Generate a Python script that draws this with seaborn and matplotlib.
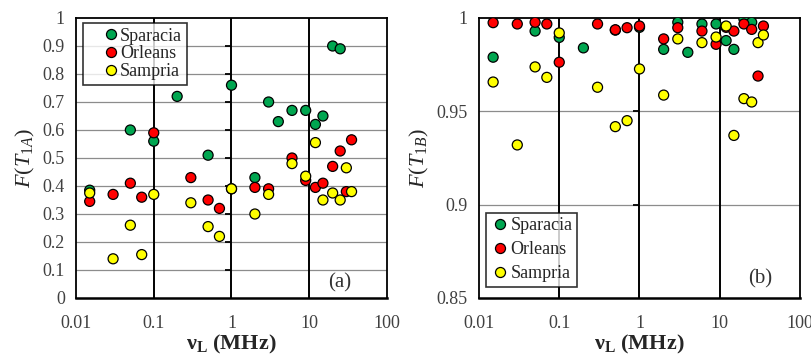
import numpy as np
import pandas as pd
import matplotlib
matplotlib.use('Agg')
import matplotlib.pyplot as plt
import seaborn as sns

## --- dados ---
x_sparacia = [0.015, 0.05, 0.1, 0.2, 0.5, 1, 2, 3, 4, 6, 9, 12, 15, 20, 25]
x_outros = [0.015, 0.03, 0.05, 0.07, 0.1, 0.3, 0.5, 0.7, 1, 2, 3, 6, 9, 12, 15, 20, 25, 30, 35]

# painel (a) F(T1A)
fa_sparacia = [0.385, 0.60, 0.56, 0.72, 0.51, 0.76, 0.43, 0.70, 0.63, 0.67, 0.67, 0.62, 0.65, 0.90, 0.89]
fa_orleans = [0.345, 0.37, 0.41, 0.36, 0.59, 0.43, 0.35, 0.32, 0.39, 0.395, 0.39, 0.50, 0.42, 0.395, 0.41,
              0.47, 0.525, 0.38, 0.565]
fa_sampria = [0.375, 0.14, 0.26, 0.155, 0.37, 0.34, 0.255, 0.22, 0.39, 0.30, 0.37, 0.48, 0.435, 0.555, 0.35,
              0.375, 0.35, 0.465, 0.38]

# painel (b) F(T1B)
fb_sparacia = [0.979, 0.993, 0.9896, 0.984, 0.9935, 0.995, 0.9832, 0.9977, 0.9816, 0.9968, 0.9968, 0.9879,
               0.9832, 0.9995, 0.9977]
fb_orleans = [0.9975, 0.9968, 0.9977, 0.9968, 0.9763, 0.9968, 0.9937, 0.9948, 0.9957, 0.9888, 0.9948, 0.993,
              0.9859, 0.995, 0.993, 0.9968, 0.9939, 0.9689, 0.9957]
fb_sampria = [0.9657, 0.932, 0.9738, 0.9682, 0.992, 0.9629, 0.9418, 0.945, 0.9727, 0.9587, 0.9888, 0.9868,
              0.9898, 0.9957, 0.9371, 0.9568, 0.955, 0.9868, 0.9909]

amostras = ['Sparacia', 'Orleans', 'Sampria']
cores = {'Sparacia': '#00A650', 'Orleans': '#FF0000', 'Sampria': '#FFFF00'}

x_ticks = [0.01, 0.1, 1, 10, 100]
x_labels = ['0.01', '0.1', '1', '10', '100']
ya_ticks = [0, 0.1, 0.2, 0.3, 0.4, 0.5, 0.6, 0.7, 0.8, 0.9, 1]
ya_labels = ['0', '0.1', '0.2', '0.3', '0.4', '0.5', '0.6', '0.7', '0.8', '0.9', '1']
yb_ticks = [0.85, 0.9, 0.95, 1]
yb_labels = ['0.85', '0.9', '0.95', '1']

## montando as tabelas
def monta(fs, fo, fm):
    return pd.concat([
        pd.DataFrame({'nu': x_sparacia, 'F': fs, 'amostra': 'Sparacia'}),
        pd.DataFrame({'nu': x_outros, 'F': fo, 'amostra': 'Orleans'}),
        pd.DataFrame({'nu': x_outros, 'F': fm, 'amostra': 'Sampria'}),
    ], ignore_index=True)

dados_a = monta(fa_sparacia, fa_orleans, fa_sampria)
dados_b = monta(fb_sparacia, fb_orleans, fb_sampria)

sns.set_style('white')
plt.rcParams['font.family'] = ['Liberation Serif', 'DejaVu Serif']
plt.rcParams['mathtext.fontset'] = 'custom'
plt.rcParams['mathtext.rm'] = 'Liberation Serif'
plt.rcParams['mathtext.it'] = 'Liberation Serif:italic'
plt.rcParams['mathtext.bf'] = 'Liberation Serif:bold'

fig = plt.figure(figsize=(8.12, 3.58), dpi=100)
ax_a = fig.add_axes([76 / 812, 60 / 358, 311 / 812, 280 / 358])
ax_b = fig.add_axes([479 / 812, 60 / 358, 321 / 812, 280 / 358])


def formata(ax, dados, yticks, ylabels, ylim, ylabel, letra, pos_letra):
    sns.scatterplot(data=dados, x='nu', y='F', hue='amostra', hue_order=amostras,
                    palette=cores, s=52, edgecolor='black', linewidth=0.9, ax=ax, zorder=5)
    ax.set_xscale('log')
    ax.set_xlim(0.01, 100)
    ax.set_ylim(*ylim)
    ax.set_xticks(x_ticks)
    ax.set_xticklabels(x_labels)
    ax.minorticks_off()
    ax.set_yticks(yticks)
    ax.set_yticklabels(ylabels)
    ax.tick_params(axis='x', direction='out', length=4, width=1.2, color='black',
                   labelsize=13, labelcolor='#404040', pad=8)
    ax.tick_params(axis='y', length=0, labelsize=13, labelcolor='#404040', pad=8)
    # grade: horizontais cinza, verticais pretas nas decadas
    for yv in yticks[1:-1]:
        ax.axhline(yv, color='#8c8c8c', lw=0.9, zorder=1)
    for xv in x_ticks[1:-1]:
        ax.axvline(xv, color='black', lw=1.4, zorder=2)
    # marquinhas do eixo vertical cruzando em 1 (estilo excel)
    ax.plot([1] * len(yticks[1:-1]), yticks[1:-1], ls='none', marker=0,
            ms=4, mew=1.3, color='black', zorder=3)
    for lado in ax.spines.values():
        lado.set_color('black')
        lado.set_linewidth(1.3)
    ax.spines['bottom'].set_linewidth(1.8)
    ax.set_xlabel(r'ν$_\mathbf{L}$ (MHz)', fontsize=16, fontweight='bold', labelpad=1)
    ax.set_ylabel(ylabel, fontsize=16, labelpad=4)
    ax.text(pos_letra[0], pos_letra[1], letra, transform=ax.transAxes, ha='right', va='bottom',
            fontsize=15, color='#333333')


def legenda(ax, loc, ancora, espaco, pad, hl, htp):
    leg = ax.legend(loc=loc, bbox_to_anchor=ancora, bbox_transform=fig.transFigure,
                    fontsize=13, frameon=True, fancybox=False, handletextpad=htp,
                    borderpad=pad, labelspacing=espaco, handlelength=hl, borderaxespad=0)
    leg.get_frame().set_edgecolor('black')
    leg.get_frame().set_linewidth(1.2)
    leg.set_zorder(10)
    for h in leg.legend_handles:
        h.set_markeredgecolor('black')
        h.set_markeredgewidth(0.9)


formata(ax_a, dados_a, ya_ticks, ya_labels, (0, 1), r'$F(T_{1A})$', '(a)', (0.885, 0.02))
formata(ax_b, dados_b, yb_ticks, yb_labels, (0.85, 1), r'$F(T_{1B})$', '(b)', (0.915, 0.035))
legenda(ax_a, 'upper left', (83 / 812, 1 - 23 / 358), 0.05, 0.25, 2.6, -0.8)
legenda(ax_b, 'lower left', (486 / 812, 1 - 287 / 358), 0.4, 0.25, 1.0, 0.1)

fig.savefig('out.png', dpi=100)
